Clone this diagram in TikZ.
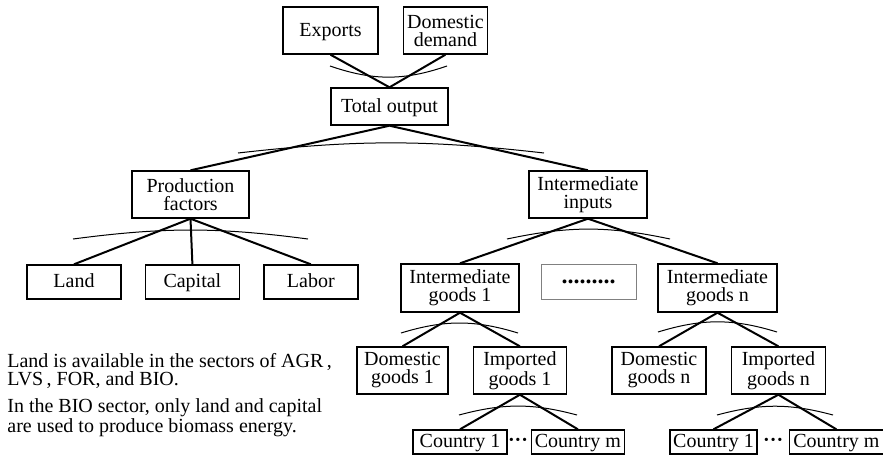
\documentclass[tikz,border=0pt]{standalone}
\usepackage{fontspec}
\setmainfont{Liberation Serif}
\usepackage{tikz}
\usetikzlibrary{positioning,calc}

\tikzset{
  box/.style={draw, line width=0.7pt, align=center, inner sep=0pt, minimum height=23.5pt},
  onebox/.style={box, text height=1.6ex, text depth=0.4ex},
  smallbox/.style={onebox, minimum height=12pt},
  link/.style={line width=1pt},
  nest/.style={line width=0.5pt},
  note/.style={align=left, inner sep=0pt, anchor=north west},
}

\begin{document}
\begin{tikzpicture}[x=0.5pt, y=-0.5pt, font=\fontsize{10}{9}\selectfont]
  \useasboundingbox (0,0) rectangle (883,456);
  % top level
  \node[onebox, minimum width=47.5pt] (exports) at (330.5,30.5) {Exports};
  \node[box, minimum width=42pt, right=12pt of exports] (ddemand) {Domestic\\demand};
  \node[onebox, minimum width=58.5pt, minimum height=18.5pt] (total) at (389.5,106.5) {Total output};
  \draw[link] (exports.south) -- (total.north);
  \draw[link] (ddemand.south) -- (total.north);
  \draw[nest] (330,66) to[bend right=19] (447,66);

  % production factors and intermediate inputs
  \node[box, minimum width=58.5pt] (prodf) at (190.5,194.5) {Production\\factors};
  \node[box, minimum width=59pt] (interin) at (588,194.5) {Intermediate\\inputs};
  \draw[link] (total.south) -- (prodf.north);
  \draw[link] (total.south) -- (interin.north);
  \draw[nest] (238,153) to[bend left=6.5] (544,153);

  % land, capital, labor
  \node[onebox, minimum width=47pt, minimum height=17pt] (land) at (74,282) {Land};
  \node[onebox, minimum width=47pt, minimum height=17pt, right=11.5pt of land] (capital) {Capital};
  \node[onebox, minimum width=47pt, minimum height=17pt, right=11.5pt of capital] (labor) {Labor};
  \draw[link] (prodf.south) -- (land.north);
  \draw[link] (prodf.south) -- (capital.north);
  \draw[link] (prodf.south) -- (labor.north);
  \draw[nest] (73,239) to[bend left=7.5] (308,239);

  % intermediate goods
  \node[box, minimum width=59pt, minimum height=24pt] (ig1) at (460,288) {Intermediate\\goods 1};
  \node[draw=gray, line width=0.5pt, minimum width=47.5pt, minimum height=17.5pt, inner sep=0pt] (more) at (588.5,281.5) {\fontsize{12}{12}\selectfont\textbf{.........}};
  \node[box, minimum width=59.5pt, minimum height=24pt] (ign) at (717.5,288) {Intermediate\\goods n};
  \draw[link] (interin.south) -- (ig1.north);
  \draw[link] (interin.south) -- (ign.north);
  \draw[nest] (507,239) to[bend left=12] (670,239);

  % domestic and imported goods
  \node[box, minimum width=45.5pt] (dg1) at (402.5,370.5) {Domestic\\goods 1};
  \node[box, minimum width=46.5pt, right=12pt of dg1] (ipg1) {Imported\\goods 1};
  \node[box, minimum width=47pt] (dgn) at (659,370.5) {Domestic\\goods n};
  \node[box, minimum width=47pt, right=12pt of dgn] (ipgn) {Imported\\goods n};
  \draw[link] (ig1.south) -- (dg1.north);
  \draw[link] (ig1.south) -- (ipg1.north);
  \draw[link] (ign.south) -- (dgn.north);
  \draw[link] (ign.south) -- (ipgn.north);
  \draw[nest] (401,333) to[bend left=17] (518,333);
  \draw[nest] (658,332) to[bend left=17] (777,332);

  % countries
  \node[smallbox, minimum width=47pt] (c11) at (460,442) {Country 1};
  \node[smallbox, minimum width=46.5pt, right=11.5pt of c11] (c1m) {Country m};
  \node[inner sep=0pt] (dots1) at ($(c11.east)!0.45!(c1m.west)$) {\textbf{···}};
  \node[smallbox, minimum width=43.5pt] (cn1) at (713.5,442) {Country 1};
  \node[smallbox, minimum width=47pt, right=15.5pt of cn1] (cnm) {Country m};
  \node[inner sep=0pt] (dots2) at ($(cn1.east)!0.5!(cnm.west)$) {\textbf{···}};
  \draw[link] (ipg1.south) -- (c11.north);
  \draw[link] (ipg1.south) -- (c1m.north);
  \draw[link] (ipgn.south) -- (cn1.north);
  \draw[link] (ipgn.south) -- (cnm.north);
  \draw[nest] (459,415) to[bend left=15] (577,415);
  \draw[nest] (717,415) to[bend left=15] (833,415);

  % notes
  \node[note] (note1) at (7,353) {Land is available in the sectors of AGR\,,\\LVS\,, FOR, and BIO.};
  \node[note] (note2) at (7,398) {In the BIO sector, only land and capital\\are used to produce biomass energy.};
\end{tikzpicture}
\end{document}
